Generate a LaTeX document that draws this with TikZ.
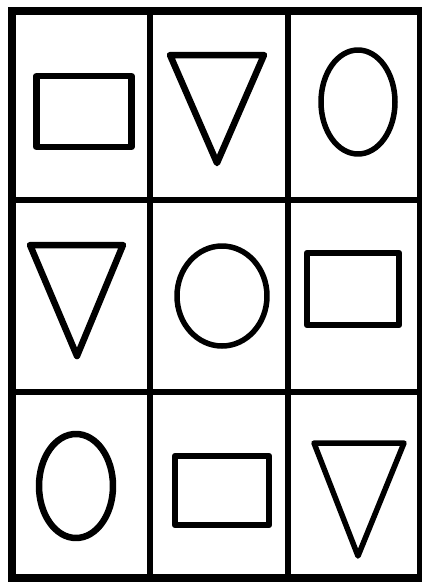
\documentclass[tikz,border=0pt]{standalone}
\begin{document}
\begin{tikzpicture}[x=1pt,y=-1pt,
  gridline/.style={line width=6pt,black},
  outerline/.style={line width=7.5pt,black},
  shapeline/.style={line width=6.5pt,black,line join=round},
  thinshape/.style={line width=5.5pt,black,line join=round}]
\useasboundingbox (0,0) rectangle (421,584);
\fill[white] (0,0) rectangle (421,584);
% grid
\draw[gridline] (150,11) -- (150,578);
\draw[gridline] (288,11) -- (288,578);
\draw[gridline] (12,200) -- (420,200);
\draw[gridline] (12,392) -- (420,392);
\draw[outerline] (12,11) rectangle (421,578);
% row 1
\draw[shapeline] (36.5,76) rectangle (131.5,147);
\draw[shapeline] (170,55) -- (264,55) -- (217,163) -- cycle;
\draw[thinshape] (358,102) ellipse [x radius=37, y radius=52];
% row 2
\draw[shapeline] (30,245) -- (123,245) -- (77,356) -- cycle;
\draw[thinshape] (222,296) ellipse [x radius=45, y radius=50];
\draw[shapeline] (307,253) rectangle (399,325);
% row 3
\draw[shapeline] (76,486) ellipse [x radius=37, y radius=52];
\draw[shapeline] (175,456) rectangle (269,525);
\draw[thinshape] (314,443) -- (404,443) -- (358,556) -- cycle;
\end{tikzpicture}
\end{document}
